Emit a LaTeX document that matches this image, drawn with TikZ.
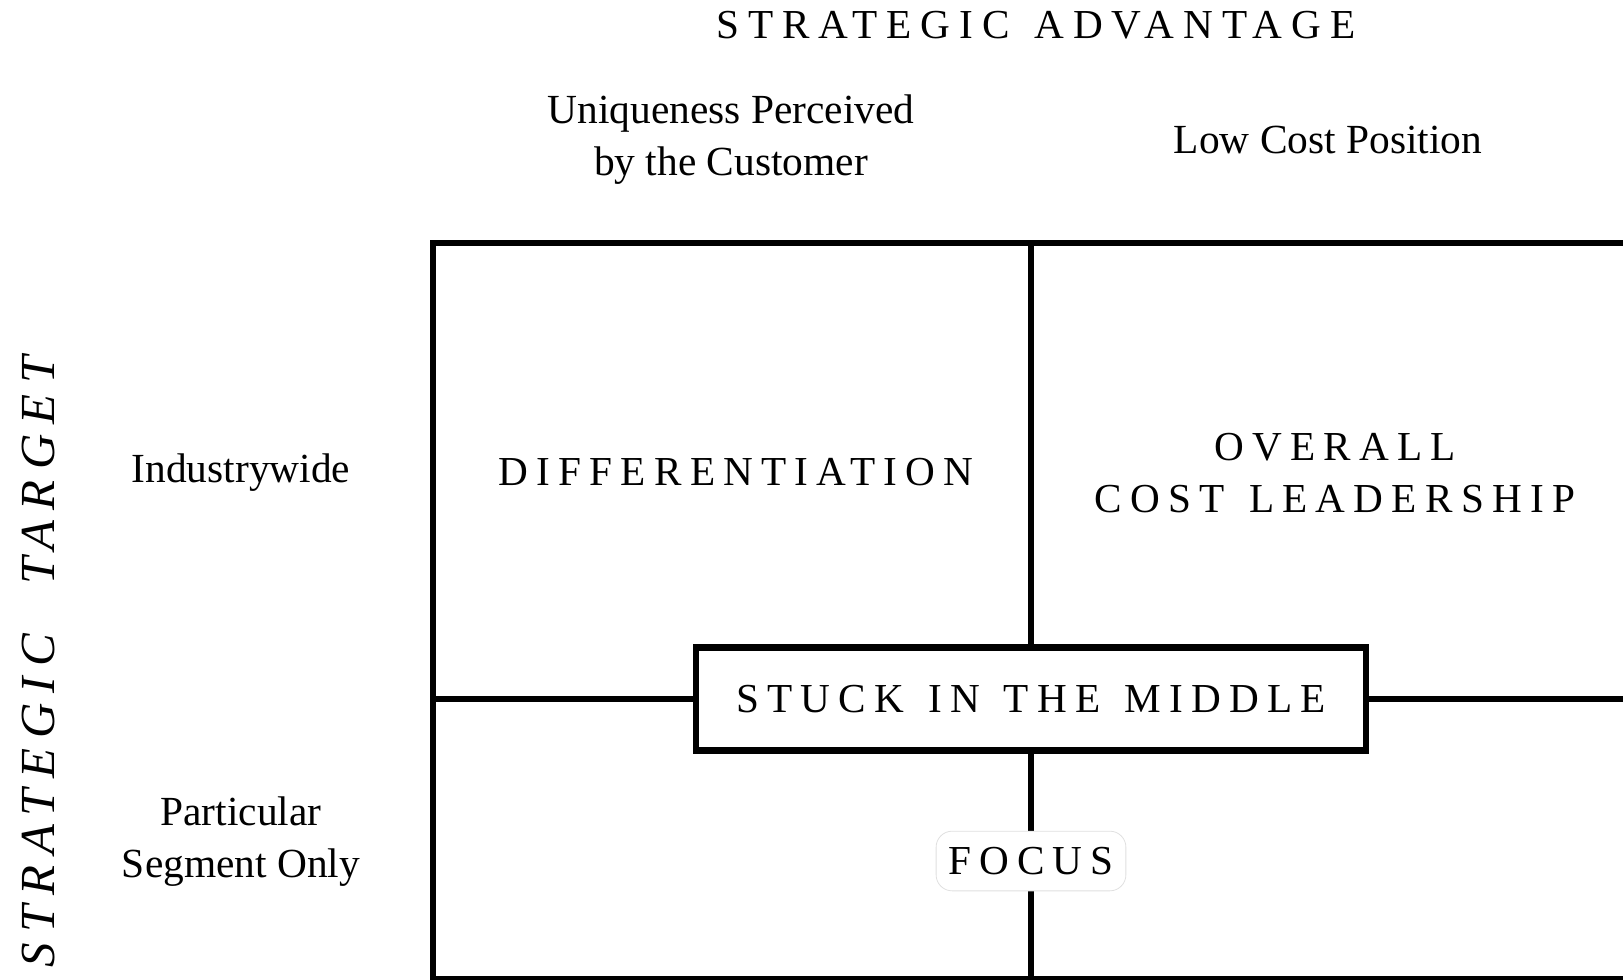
\documentclass[tikz,border=0pt]{standalone}
\usepackage{fontspec}
\setmainfont{Liberation Serif}
\newfontfamily\spacedfont[LetterSpace=20,WordSpace=1.3]{Liberation Serif}
\newfontfamily\titlefont[LetterSpace=21.5,WordSpace=1.3]{Liberation Serif}
\newfontfamily\sidefont[LetterSpace=21,WordSpace=2.2]{Liberation Serif}
\usetikzlibrary{positioning}

\begin{document}
\begin{tikzpicture}[x=0.5pt,y=-0.5pt,
    every node/.style={font=\fontsize{20.7}{26}\selectfont,inner sep=0pt,align=center},
    caps/.style={font=\fontsize{20.6}{26}\selectfont\spacedfont},
    title/.style={font=\fontsize{20.6}{26}\selectfont\titlefont},
    sidetitle/.style={font=\fontsize{24.5}{30}\selectfont\sidefont\itshape},
    gridline/.style={line width=3.3pt},
    ]
    \useasboundingbox (0,0) rectangle (1623,980);
    \clip (0,0) rectangle (1623,980);

    % headings
    \node[title] (adv) at (1036,25) {STRATEGIC ADVANTAGE};
    \node (unique) at (731,140) {Uniqueness Perceived\\by the Customer};
    \node (lowcost) at (1328,140) {Low Cost Position};
    \node[sidetitle,rotate=90] (target) at (38.5,662) {STRATEGIC TARGET};
    \node (wide) at (241,473) {Industrywide};
    \node (segment) at (241,842) {Particular\\Segment Only};

    % the grid
    \coordinate (tl) at (433,243);
    \coordinate (br) at (1700,979);
    \coordinate (tm) at (1031,243);
    \coordinate (bm) at (1031,979);
    \coordinate (ml) at (433,699);
    \coordinate (mr) at (1700,699);
    \draw[gridline] (tl) rectangle (br);

    % the strategies
    \node[caps] (diff) at (736,472) {DIFFERENTIATION};
    \node[caps] (cost) at (1335,473) {OVERALL\\COST LEADERSHIP};
    \node[caps,draw,gridline,fill=white,minimum width=335pt,minimum height=51.5pt]
        (stuck) at (1031,699) {STUCK IN THE MIDDLE};
    \path[gridline]
    (ml) edge (stuck.west)
    (stuck.east) edge (mr)
    (tm) edge (stuck.north)
    (stuck.south) edge (bm);
    \node[caps,fill=white,draw=black!12,rounded corners=8pt,inner xsep=6pt,inner ysep=8pt]
        (focus) at (1031,861) {FOCUS};
\end{tikzpicture}
\end{document}
